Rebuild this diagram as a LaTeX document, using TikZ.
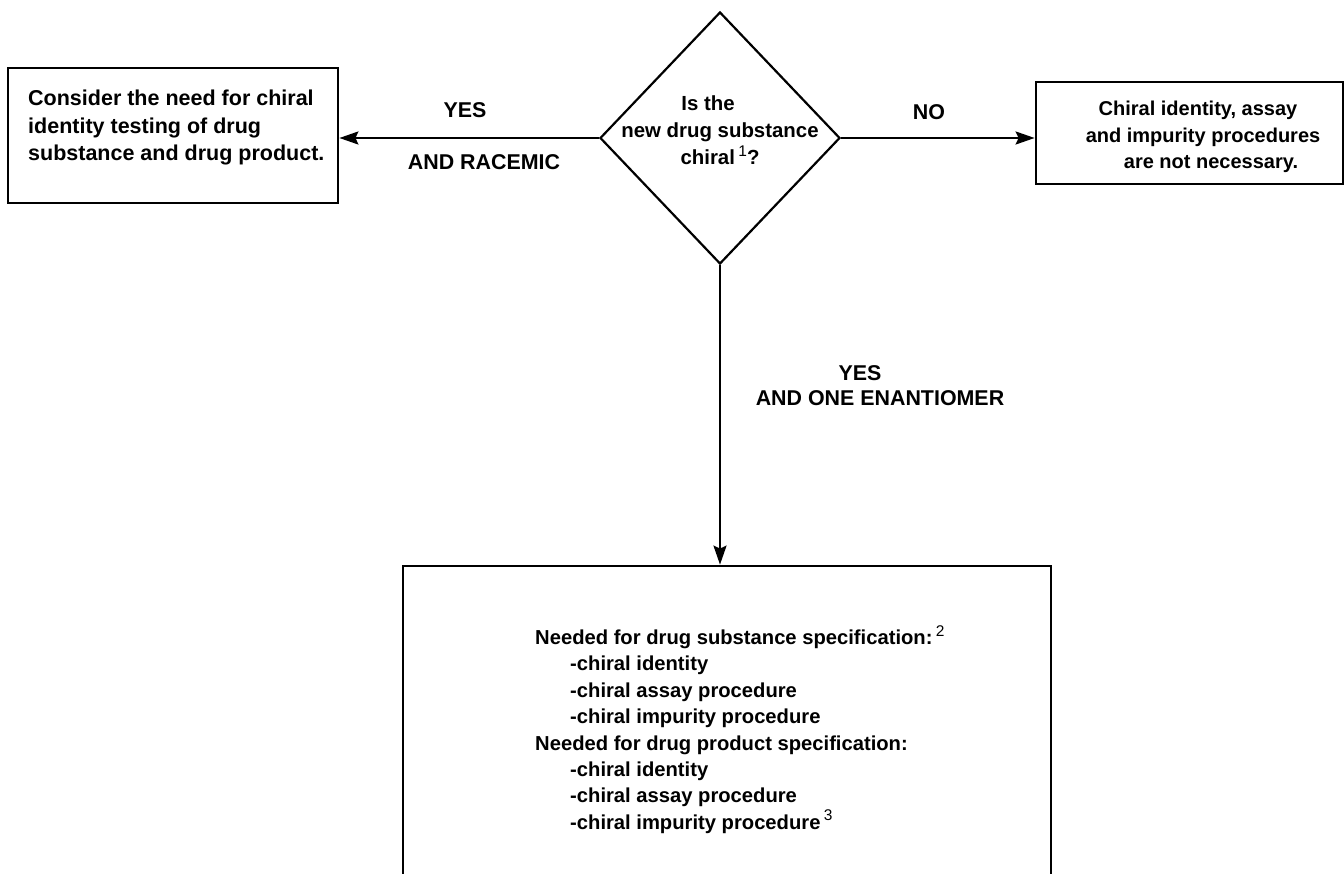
\documentclass[tikz,border=0pt]{standalone}
\usepackage{fontspec}
\setmainfont{Liberation Sans}
\usetikzlibrary{shapes.geometric,arrows.meta}

% small raised footnote numbers
\newcommand\fnmark[1]{\raisebox{0.42em}{\mdseries\fontsize{15.5}{15.5}\selectfont #1}}

\begin{document}
\begin{tikzpicture}[x=1pt,y=-1pt,
  box/.style={draw,line width=2.8pt,inner sep=0pt},
  decision/.style={draw,shape=diamond,line width=2.2pt,inner sep=0pt},
  flow/.style={line width=2.4pt,-{Stealth[length=19pt,width=13pt,inset=3pt]}},
  boxtext/.style={inner sep=0pt,font=\bfseries\fontsize{20.4}{27}\selectfont},
  edgelabel/.style={inner sep=0pt,font=\bfseries\fontsize{21.4}{26}\selectfont}
]
\clip (0,0) rectangle (1344,874);
\fill[white] (0,0) rectangle (1344,874);

% decision diamond and its question
\node[decision,minimum width=240pt,minimum height=252pt] (q) at (720,138) {};
\node[boxtext,align=center,anchor=north] (qtext) at (720,96)
  {Is the\hspace*{24pt}\\new drug substance\\chiral\,\fnmark{1}?};

% outcome boxes
\node[box,minimum width=330pt,minimum height=135pt] (lbox) at (173,135.5) {};
\node[boxtext,align=left,anchor=north west,font=\bfseries\fontsize{21.5}{27.5}\selectfont] (ltext) at (28,90)
  {Consider the need for chiral\\identity testing of drug\\substance and drug product.};

\node[box,minimum width=307pt,minimum height=102pt] (rbox) at (1189.5,133) {};
\node[boxtext,align=center,anchor=north,font=\bfseries\fontsize{20}{26.5}\selectfont] (rtext) at (1203,101)
  {Chiral identity, assay\hspace*{10pt}\\and impurity procedures\\\hspace*{16pt}are not necessary.};

\node[box,minimum width=648pt,minimum height=340pt] (bbox) at (727,736) {};
\node[boxtext,align=left,anchor=north west,font=\bfseries\fontsize{20.2}{26.4}\selectfont] (btext) at (535,625)
  {Needed for drug substance specification:\,\fnmark{2}\\
   \hspace*{35pt}-chiral identity\\
   \hspace*{35pt}-chiral assay procedure\\
   \hspace*{35pt}-chiral impurity procedure\\
   Needed for drug product specification:\\
   \hspace*{35pt}-chiral identity\\
   \hspace*{35pt}-chiral assay procedure\\
   \hspace*{35pt}-chiral impurity procedure\,\fnmark{3}};

% connectors
\draw[flow] (q.west) -- (q.west -| lbox.east);
\draw[flow] (q.east) -- (q.east -| rbox.west);
\draw[flow] (q.south) -- (q.south |- bbox.north);

% connector labels
\node[edgelabel] (yesl) at (465,110) {YES};
\node[edgelabel] (racemic) at (484,162) {AND RACEMIC};
\node[edgelabel] (no) at (929,112) {NO};
\node[edgelabel] (yesd) at (860,373) {YES};
\node[edgelabel] (enant) at (880,398) {AND ONE ENANTIOMER};
\end{tikzpicture}
\end{document}
